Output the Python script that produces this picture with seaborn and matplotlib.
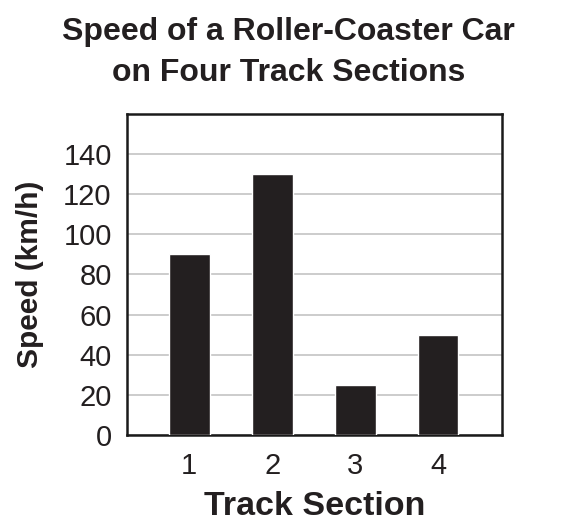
import matplotlib
matplotlib.use("Agg")
import matplotlib.pyplot as plt
import seaborn as sns
import pandas as pd

sections = ["1", "2", "3", "4"]
speeds = [90, 130, 25, 50]
y_ticks = [0, 20, 40, 60, 80, 100, 120, 140]

sns.set_theme(style="white")
plt.rcParams["font.family"] = ["Liberation Sans", "DejaVu Sans"]

df = pd.DataFrame({"Track Section": sections, "Speed": speeds})

fig = plt.figure(figsize=(5.63, 5.22), dpi=100)
ax = fig.add_axes([0.2256, 0.1667, 0.6661, 0.6149])

sns.barplot(data=df, x="Track Section", y="Speed", color="#231f20",
            width=0.49, saturation=1, ax=ax, zorder=3)

ax.set_ylim(0, 160)
ax.set_xlim(-0.75, 3.77)
ax.set_yticks(y_ticks)
ax.yaxis.grid(True, color="#cccccc", linewidth=1.4, zorder=0)
ax.set_axisbelow(True)
for s in ax.spines.values():
    s.set_visible(True)
    s.set_color("#1a1a1a")
    s.set_linewidth(1.8)

ax.tick_params(axis="both", length=0, labelsize=21, colors="#231f20")
ax.tick_params(axis="y", pad=11)
ax.tick_params(axis="x", pad=12)
ax.set_xlabel("Track Section", fontsize=24.5, fontweight="bold", color="#231f20", labelpad=8)
ax.set_ylabel("Speed (km/h)", fontsize=21.5, fontweight="bold", color="#231f20", labelpad=14)

fig.text(0.513, 0.968, "Speed of a Roller-Coaster Car\non Four Track Sections",
         ha="center", va="top", fontsize=23, fontweight="bold", color="#231f20",
         linespacing=1.5)

fig.savefig("out.png", dpi=100)
